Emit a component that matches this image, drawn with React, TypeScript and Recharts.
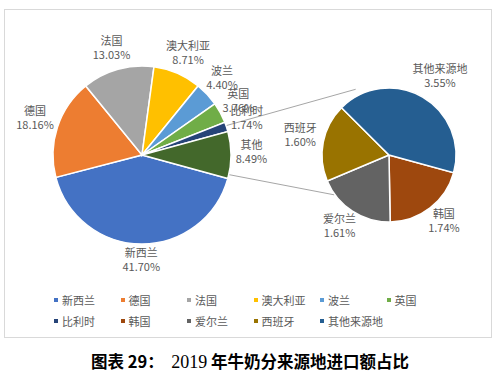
import React from "react";
import { PieChart, Pie, Cell, Legend, Customized } from "recharts";

const mainNames = ["新西兰", "德国", "法国", "澳大利亚", "波兰", "英国", "比利时", "其他"];
const mainValues = [41.7, 18.16, 13.03, 8.71, 4.4, 3.76, 1.74, 8.49];
const mainColors = ["#4472C4", "#ED7D31", "#A5A5A5", "#FFC000", "#5B9BD5", "#70AD47", "#264478", "#43682B"];

const subNames = ["韩国", "爱尔兰", "西班牙", "其他来源地"];
const subValues = [1.74, 1.61, 1.6, 3.55];
const subColors = ["#9E480E", "#636363", "#997300", "#255E91"];

const legendNames = ["新西兰", "德国", "法国", "澳大利亚", "波兰", "英国", "比利时", "韩国", "爱尔兰", "西班牙", "其他来源地"];
const legendColors = ["#4472C4", "#ED7D31", "#A5A5A5", "#FFC000", "#5B9BD5", "#70AD47", "#264478", "#9E480E", "#636363", "#997300", "#255E91"];

const titleParts = ["图表 29：", "2019", "年牛奶分来源地进口额占比"];

const mainData = mainNames.map((name, i) => ({ name, value: mainValues[i] }));
const subData = subNames.map((name, i) => ({ name, value: subValues[i] }));

const FONT = '"Noto Sans CJK SC", "Noto Sans", sans-serif';
const RAD = Math.PI / 180;

const MAIN = { cx: 137, cy: 150, r: 89 };
const SUB = { cx: 384, cy: 150, r: 67 };
const START = -15.3;

const textWidth = (s: string) => {
  let w = 0;
  for (const ch of s) {
    if (/[\u4e00-\u9fff]/.test(ch)) w += 11;
    else if (ch === "%") w += 9;
    else if (ch === ".") w += 3;
    else w += 6.3;
  }
  return w;
};

const makeLabel = (gap: number) => (props: any) => {
  const { cx, cy, midAngle, outerRadius, name, value } = props;
  const pct = `${Number(value).toFixed(2)}%`;
  const w = Math.max(textWidth(name), textWidth(pct));
  const h = 28;
  const c = Math.cos(-midAngle * RAD);
  const s = Math.sin(-midAngle * RAD);
  const rr = outerRadius + gap;
  const x = cx + rr * c + c * (w / 2);
  const y = cy + rr * s + s * (h / 2);
  return (
    <text x={x} y={y} textAnchor="middle" fill="#595959" fontSize={11} fontFamily={FONT}>
      <tspan x={x} dy={-6}>{name}</tspan>
      <tspan x={x} dy={14}>{pct}</tspan>
    </text>
  );
};

const Connectors = () => {
  const otherShare = mainValues[mainValues.length - 1] / mainValues.reduce((a, b) => a + b, 0);
  const half = otherShare * 180;
  const p1 = { x: MAIN.cx + MAIN.r * Math.cos(half * RAD), y: MAIN.cy - MAIN.r * Math.sin(half * RAD) };
  const p2 = { x: MAIN.cx + MAIN.r * Math.cos(half * RAD), y: MAIN.cy + MAIN.r * Math.sin(half * RAD) };
  const a1 = 115;
  const a2 = -138;
  const q1 = { x: SUB.cx + SUB.r * Math.cos(a1 * RAD), y: SUB.cy - SUB.r * Math.sin(a1 * RAD) };
  const q2 = { x: SUB.cx + SUB.r * Math.cos(a2 * RAD), y: SUB.cy - SUB.r * Math.sin(a2 * RAD) };
  return (
    <g>
      <line x1={p1.x} y1={p1.y} x2={q1.x} y2={q1.y} stroke="#A6A6A6" strokeWidth={1} />
      <line x1={p2.x} y1={p2.y} x2={q2.x} y2={q2.y} stroke="#A6A6A6" strokeWidth={1} />
    </g>
  );
};

const LegendContent = () => (
  <div
    style={{
      display: "grid",
      gridTemplateColumns: "repeat(6, 66.5px)",
      rowGap: 5,
      marginLeft: 54,
      fontFamily: FONT,
      fontSize: 11,
      color: "#595959",
      lineHeight: "16px",
    }}
  >
    {legendNames.map((n, i) => (
      <div key={n} style={{ display: "flex", alignItems: "center", whiteSpace: "nowrap" }}>
        <span style={{ display: "inline-block", width: 4, height: 4, background: legendColors[i], marginRight: 4 }} />
        <span>{n}</span>
      </div>
    ))}
  </div>
);

export default function App() {
  return (
    <div style={{ position: "absolute", left: 0, top: 0, width: 500, height: 372, background: "#fff" }}>
      <div
        style={{
          position: "absolute",
          left: 4,
          top: 9,
          width: 486,
          height: 327,
          border: "1px solid #D9D9D9",
        }}
      />
      <div style={{ position: "absolute", left: 0, top: 0 }}>
        <PieChart width={500} height={340}>
          <Customized component={Connectors} />
          <Pie
            data={mainData}
            dataKey="value"
            nameKey="name"
            cx={MAIN.cx}
            cy={MAIN.cy}
            outerRadius={MAIN.r}
            startAngle={START}
            endAngle={START - 360}
            stroke="#fff"
            strokeWidth={1.5}
            label={makeLabel(5)}
            labelLine={false}
            isAnimationActive={false}
          >
            {mainData.map((d, i) => (
              <Cell key={d.name} fill={mainColors[i]} />
            ))}
          </Pie>
          <Pie
            data={subData}
            dataKey="value"
            nameKey="name"
            cx={SUB.cx}
            cy={SUB.cy}
            outerRadius={SUB.r}
            startAngle={START}
            endAngle={START - 360}
            stroke="#fff"
            strokeWidth={1.5}
            label={makeLabel(7)}
            labelLine={false}
            isAnimationActive={false}
          >
            {subData.map((d, i) => (
              <Cell key={d.name} fill={subColors[i]} />
            ))}
          </Pie>
          <Legend
            content={LegendContent}
            wrapperStyle={{ position: "absolute", left: 0, top: 292, width: 500 }}
          />
        </PieChart>
      </div>
      <div
        style={{
          position: "absolute",
          left: 0,
          top: 350,
          width: 500,
          textAlign: "center",
          fontSize: 16.5,
          fontWeight: 700,
          color: "#000",
          fontFamily: FONT,
          lineHeight: "22px",
          whiteSpace: "pre",
        }}
      >
        <span>{titleParts[0]}</span>
        <span>{"  "}</span>
        <span style={{ fontFamily: '"Liberation Serif", serif', fontWeight: 400, fontSize: 18 }}>{titleParts[1]}</span>
        <span> </span>
        <span>{titleParts[2]}</span>
      </div>
    </div>
  );
}
